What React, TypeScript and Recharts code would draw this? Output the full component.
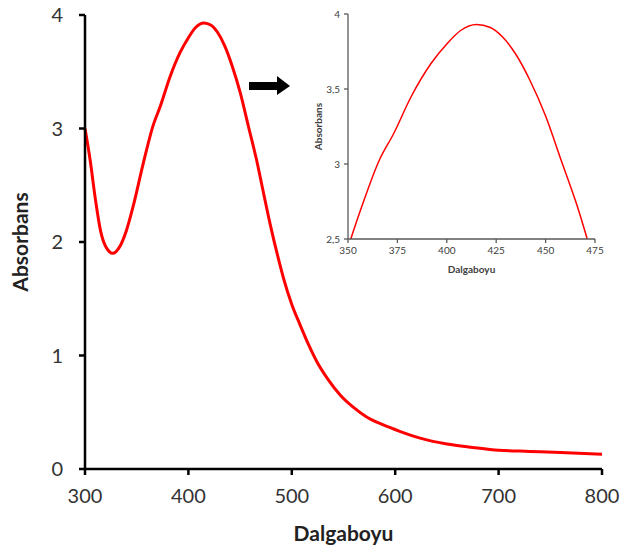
import React from 'react';
import { LineChart, Line, XAxis, YAxis } from 'recharts';

// wavelength (nm) and absorbance
const wavelengths = [
  300, 305, 310, 315, 320, 327, 333, 340, 347, 356, 366, 373, 382, 392, 400, 407, 415, 422,
  428, 435, 442, 450, 458, 466, 472, 479, 486, 492, 500, 508, 516, 524, 535, 547, 560, 572,
  588, 605, 625, 650, 675, 700, 730, 760, 800,
];
const absorbance = [
  3.0, 2.72, 2.38, 2.1, 1.96, 1.9, 1.95, 2.1, 2.33, 2.68, 3.03, 3.2, 3.45, 3.67, 3.8, 3.89, 3.93, 3.91,
  3.85, 3.73, 3.56, 3.32, 3.02, 2.72, 2.46, 2.16, 1.89, 1.68, 1.45, 1.27, 1.1, 0.95, 0.79, 0.65, 0.54, 0.46,
  0.39, 0.33, 0.27, 0.22, 0.19, 0.165, 0.155, 0.145, 0.13,
];

const mainXTicks = [300, 400, 500, 600, 700, 800];
const mainYTicks = [0, 1, 2, 3, 4];
const insetXTicks = [350, 375, 400, 425, 450, 475];
const insetYTicks = [2.5, 3, 3.5, 4];

const data = wavelengths.map((w, i) => ({ w, a: absorbance[i] }));
const insetData = data.filter(d => d.w >= 340 && d.w <= 480);

const FONT = 'Lato, "Open Sans", sans-serif';

const App: React.FC = () => {
  return (
    <div style={{ position: 'absolute', left: 0, top: 0, width: 625, height: 553, background: '#fff', fontFamily: FONT }}>
      <LineChart width={625} height={553} data={data} margin={{ top: 15, right: 23, bottom: 54, left: 25 }}>
        <XAxis
          dataKey="w"
          type="number"
          domain={[300, 800]}
          ticks={mainXTicks}
          height={30}
          stroke="#000"
          strokeWidth={2.5}
          tickSize={6}
          tickMargin={14}
          tick={{ fill: '#333', fontSize: 20, fontFamily: FONT }}
          label={{ value: 'Dalgaboyu', position: 'insideBottom', offset: -42, fill: '#222', fontSize: 21, fontWeight: 700, fontFamily: FONT }}
        />
        <YAxis
          type="number"
          domain={[0, 4]}
          ticks={mainYTicks}
          width={60}
          stroke="#000"
          strokeWidth={2.5}
          tickSize={6}
          tickMargin={16}
          tick={{ fill: '#333', fontSize: 20, fontFamily: FONT }}
          label={{ value: 'Absorbans', angle: -90, position: 'insideLeft', offset: -4, fill: '#222', fontSize: 21, fontWeight: 700, fontFamily: FONT, style: { textAnchor: 'middle' } }}
        />
        <Line dataKey="a" type="monotone" stroke="#ff0000" strokeWidth={3} dot={false} isAnimationActive={false} />
      </LineChart>

      {/* arrow pointing to the inset */}
      <svg width={625} height={553} style={{ position: 'absolute', left: 0, top: 0, pointerEvents: 'none' }}>
        <polygon points="249,82 277,82 277,76 290,86 277,95 277,90 249,90" fill="#000" />
      </svg>

      <div style={{ position: 'absolute', left: 290, top: 0 }}>
        <LineChart width={335} height={290} data={insetData} margin={{ top: 14, right: 30, bottom: 31, left: 28 }}>
          <XAxis
            dataKey="w"
            type="number"
            domain={[350, 475]}
            ticks={insetXTicks}
            allowDataOverflow
            height={20}
            stroke="#595959"
            strokeWidth={1.3}
            tickSize={4}
            tickMargin={4}
            tick={{ fill: '#404040', fontSize: 10, fontFamily: FONT }}
            label={{ value: 'Dalgaboyu', position: 'insideBottom', offset: -14, fill: '#404040', fontSize: 10, fontWeight: 700, fontFamily: FONT }}
          />
          <YAxis
            type="number"
            domain={[2.5, 4]}
            ticks={insetYTicks}
            allowDataOverflow
            width={30}
            stroke="#595959"
            strokeWidth={1.3}
            tickSize={4}
            tickMargin={4}
            tickFormatter={(v: number) => String(v).replace('.', ',')}
            tick={{ fill: '#404040', fontSize: 10, fontFamily: FONT }}
            label={{ value: 'Absorbans', angle: -90, position: 'insideLeft', offset: 0, fill: '#404040', fontSize: 10, fontWeight: 700, fontFamily: FONT, style: { textAnchor: 'middle' } }}
          />
          <Line dataKey="a" type="monotone" stroke="#ff0000" strokeWidth={1.5} dot={false} isAnimationActive={false} />
        </LineChart>
      </div>
    </div>
  );
};

export default App;
